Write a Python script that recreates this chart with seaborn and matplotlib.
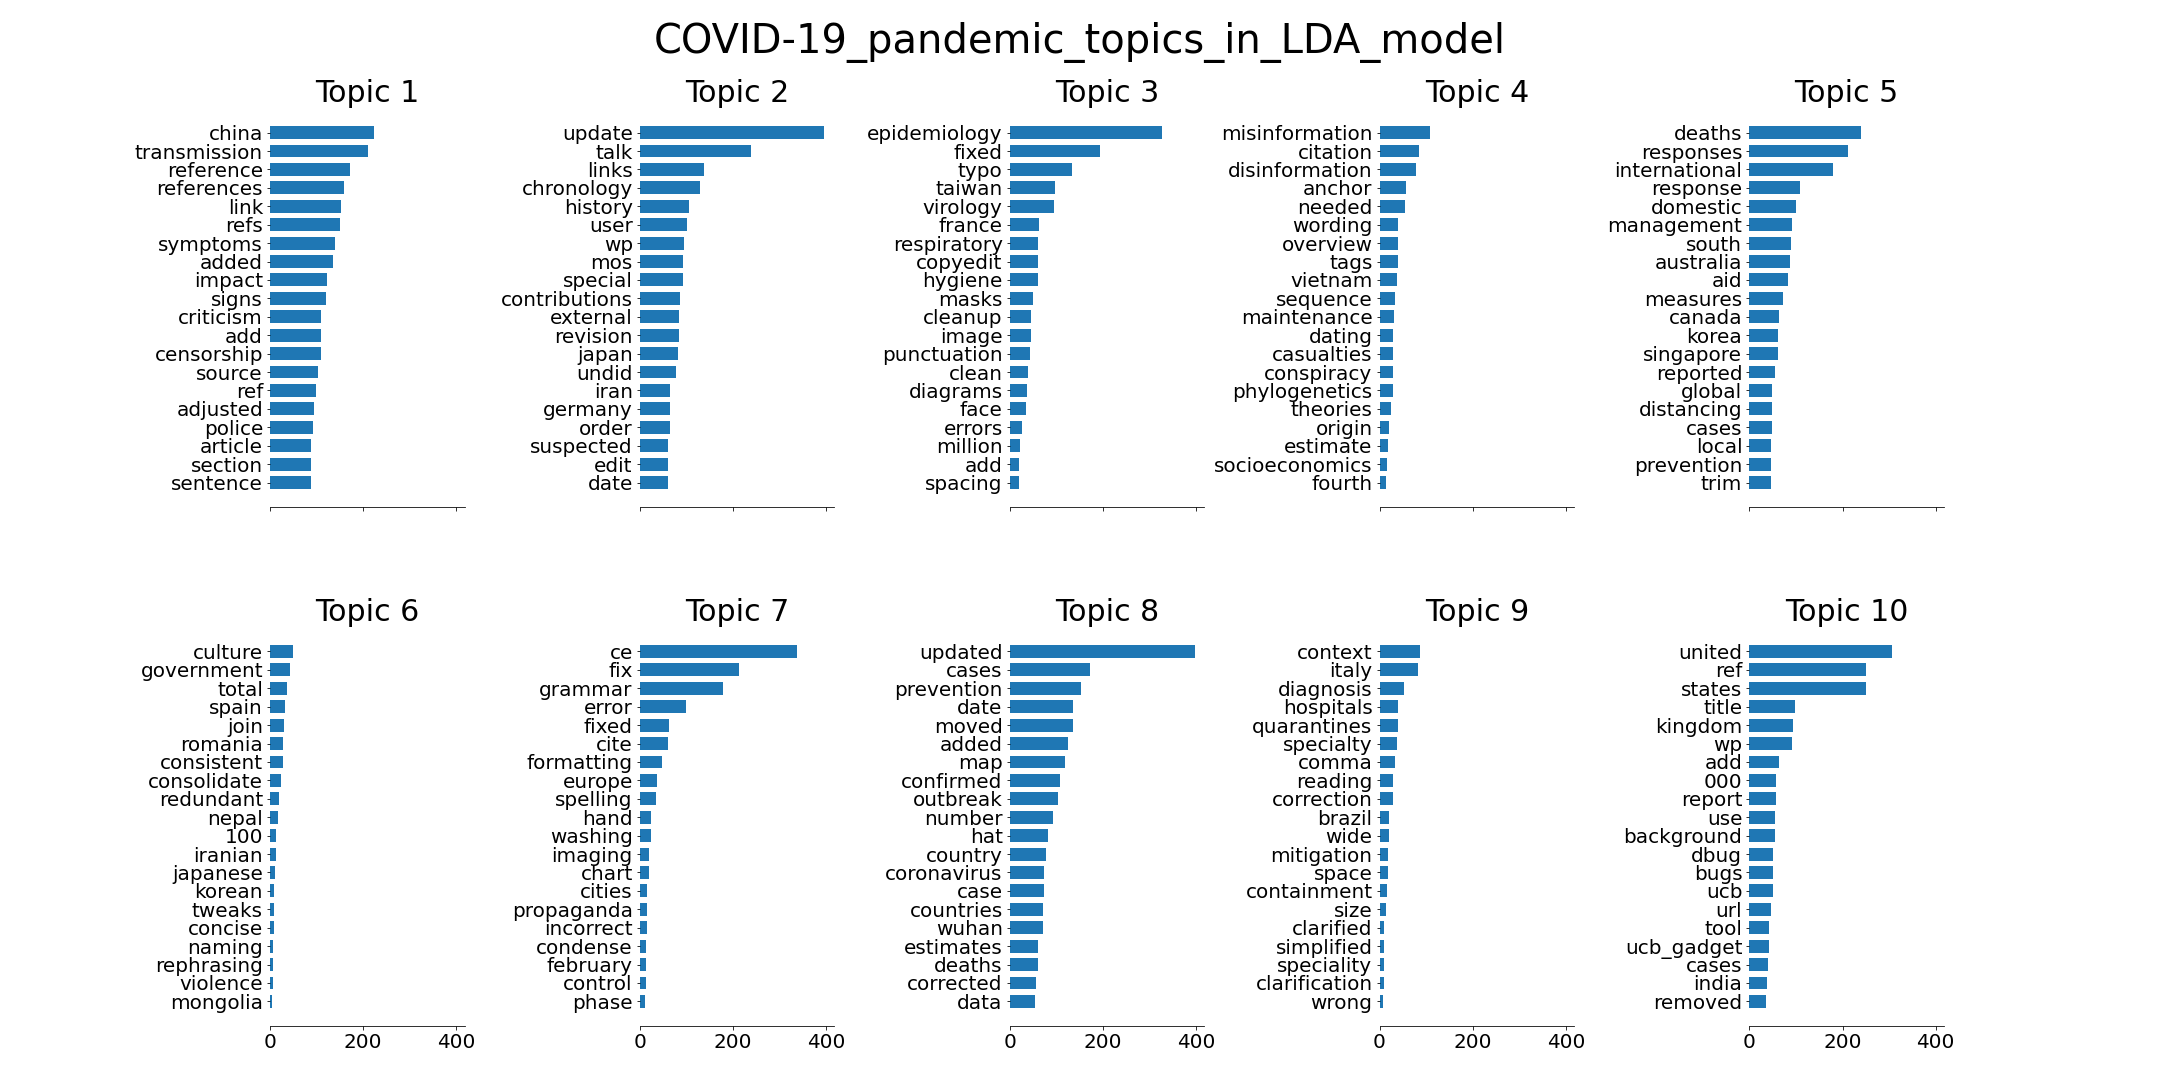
import matplotlib
matplotlib.use("Agg")
import matplotlib.pyplot as plt
import seaborn as sns
import numpy as np

title = "COVID-19_pandemic_topics_in_LDA_model"

topic1_words = ["china", "transmission", "reference", "references", "link", "refs", "symptoms",
                "added", "impact", "signs", "criticism", "add", "censorship", "source", "ref",
                "adjusted", "police", "article", "section", "sentence"]
topic1_weights = [224, 211, 172, 158, 153.5, 151, 140, 136, 123, 121, 110, 110, 108.6, 103.7,
                  98, 95.5, 91.4, 87.5, 87, 87]

topic2_words = ["update", "talk", "links", "chronology", "history", "user", "wp", "mos", "special",
                "contributions", "external", "revision", "japan", "undid", "iran", "germany",
                "order", "suspected", "edit", "date"]
topic2_weights = [395, 238, 138, 130, 106, 102, 95.5, 93, 93, 86.5, 85, 85, 82.4, 78, 65, 63.7,
                  63.7, 61, 59.6, 59.6]

topic3_words = ["epidemiology", "fixed", "typo", "taiwan", "virology", "france", "respiratory",
                "copyedit", "hygiene", "masks", "cleanup", "image", "punctuation", "clean",
                "diagrams", "face", "errors", "million", "add", "spacing"]
topic3_weights = [328, 193.5, 134, 97, 95.5, 63.7, 61.5, 61, 61, 50.6, 46.5, 46.5, 44, 40, 37.6,
                  36, 27, 23, 20.4, 20.4]

topic4_words = ["misinformation", "citation", "disinformation", "anchor", "needed", "wording",
                "overview", "tags", "vietnam", "sequence", "maintenance", "dating", "casualties",
                "conspiracy", "phylogenetics", "theories", "origin", "estimate", "socioeconomics",
                "fourth"]
topic4_weights = [108, 85, 78, 57, 55, 40, 40, 40, 37.6, 33.5, 31, 29.4, 29.4, 29.4, 29.4, 25.3,
                  20.4, 18.8, 16.3, 13.9]

topic5_words = ["deaths", "responses", "international", "response", "domestic", "management",
                "south", "australia", "aid", "measures", "canada", "korea", "singapore",
                "reported", "global", "distancing", "cases", "local", "prevention", "trim"]
topic5_weights = [240, 212, 180, 108, 101, 90.6, 89, 86.5, 84, 72, 63, 61, 61, 56, 48, 48, 48,
                  45.7, 45.7, 45.7]

topic6_words = ["culture", "government", "total", "spain", "join", "romania", "consistent",
                "consolidate", "redundant", "nepal", "100", "iranian", "japanese", "korean",
                "tweaks", "concise", "naming", "rephrasing", "violence", "mongolia"]
topic6_weights = [48.5, 42.6, 36.8, 32, 29, 28, 28, 23.5, 19, 17.6, 13, 12, 11, 9, 9, 8, 6, 6,
                  5.5, 5]

topic7_words = ["ce", "fix", "grammar", "error", "fixed", "cite", "formatting", "europe",
                "spelling", "hand", "washing", "imaging", "chart", "cities", "propaganda",
                "incorrect", "condense", "february", "control", "phase"]
topic7_weights = [338, 212, 179, 100, 62, 60, 47, 37, 34, 23.5, 23.5, 19, 19, 15, 15, 14.5, 13,
                  13, 13, 11]

topic8_words = ["updated", "cases", "prevention", "date", "moved", "added", "map", "confirmed",
                "outbreak", "number", "hat", "country", "coronavirus", "case", "countries",
                "wuhan", "estimates", "deaths", "corrected", "data"]
topic8_weights = [398, 172, 153, 135.5, 135.5, 125, 118, 107.5, 103, 92.5, 82, 77, 73, 73, 71,
                  71, 60, 60, 56, 54]

topic9_words = ["context", "italy", "diagnosis", "hospitals", "quarantines", "specialty", "comma",
                "reading", "correction", "brazil", "wide", "mitigation", "space", "containment",
                "size", "clarified", "simplified", "speciality", "clarification", "wrong"]
topic9_weights = [87, 82, 53, 40, 40, 38, 34, 29, 29, 20.6, 20.6, 19, 19, 16, 14.7, 10, 10, 10,
                  10, 7]

topic10_words = ["united", "ref", "states", "title", "kingdom", "wp", "add", "000", "report",
                 "use", "background", "dbug", "bugs", "ucb", "url", "tool", "ucb_gadget", "cases",
                 "india", "removed"]
topic10_weights = [306, 250, 250, 98.5, 94, 92.6, 64.7, 57, 57, 54, 54, 50, 50, 50, 47, 42.6,
                   42.6, 41, 37, 35]

topics = [
    (topic1_words, topic1_weights), (topic2_words, topic2_weights),
    (topic3_words, topic3_weights), (topic4_words, topic4_weights),
    (topic5_words, topic5_weights), (topic6_words, topic6_weights),
    (topic7_words, topic7_weights), (topic8_words, topic8_weights),
    (topic9_words, topic9_weights), (topic10_words, topic10_weights),
]

fig, axes = plt.subplots(2, 5, figsize=(30, 15), sharex=True)
axes = axes.flatten()
for idx, (words, weights) in enumerate(topics):
    ax = axes[idx]
    sns.barplot(x=weights, y=words, orient="h", ax=ax, color="#1f77b4",
                saturation=1, width=0.7, errorbar=None)
    n = len(words)
    span = (n - 1) + 0.7
    m = 0.05 * span
    ax.set_ylim(n - 1 + 0.35 + m, -0.35 - m)
    ax.set_xlabel("")
    ax.set_ylabel("")
    ax.set_title(f"Topic {idx + 1}", fontdict={"fontsize": 30})
    ax.tick_params(axis="both", which="major", labelsize=20)
    for s in ["top", "right", "left"]:
        ax.spines[s].set_visible(False)

allmax = max(max(w) for _, w in topics)
axes[0].set_xlim(0, allmax * 1.05)
axes[0].set_xticks([0, 200, 400])

fig.suptitle(title, fontsize=40)
plt.subplots_adjust(top=0.90, bottom=0.05, wspace=0.90, hspace=0.3)
fig.savefig("out.png", dpi=72)
